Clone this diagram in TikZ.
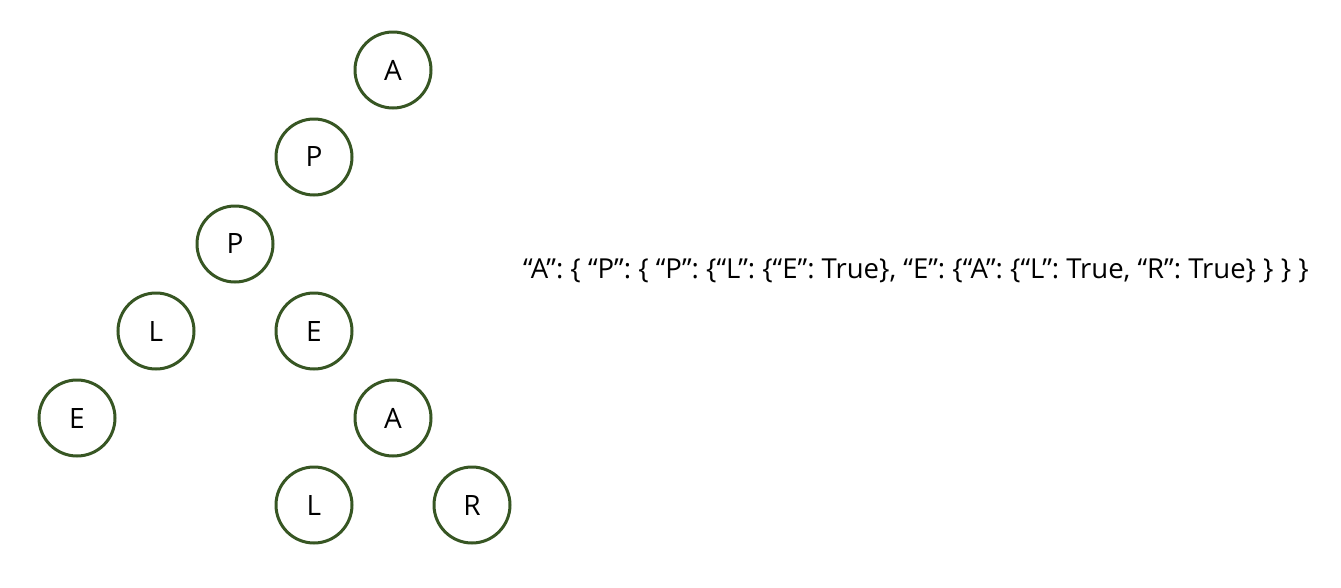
\documentclass[tikz,border=0pt]{standalone}
\usepackage{fontspec}
\setmainfont{Open Sans}
\usetikzlibrary{positioning}

\tikzset{
    trie/.style={circle, draw=trieGreen, line width=3pt, minimum size=76pt, inner sep=0pt, font=\fontsize{28}{32}\selectfont},
    dict/.style={anchor=west, inner sep=0pt, font=\fontsize{27.5}{32}\selectfont}
}
\definecolor{trieGreen}{RGB}{55,86,35}

\begin{document}
\begin{tikzpicture}[x=1pt, y=-1pt]
                        \useasboundingbox (0,0) rectangle (1341,587);
                        %\draw[help lines] (0,0) grid[step=50] (1341,587);
                        \node[trie] (A1) at (393,70) {A};
                        \node[trie] (P1) at (314,157) {P};
                        \node[trie] (P2) at (235,244) {P};
                        \node[trie] (L1) at (156,331) {L};
                        \node[trie] (E1) at (77,418) {E};
                        \node[trie] (E2) at (314,331) {E};
                        \node[trie] (A2) at (393,418) {A};
                        \node[trie] (L2) at (314,505) {L};
                        \node[trie] (R1) at (472,505) {R};
                        \node[dict] (D) at (523,271) {“A”: \{ “P”: \{ “P”: \{“L”: \{“E”: True\}, “E”: \{“A”: \{“L”: True, “R”: True\} \} \} \}};
                    \end{tikzpicture}
\end{document}
